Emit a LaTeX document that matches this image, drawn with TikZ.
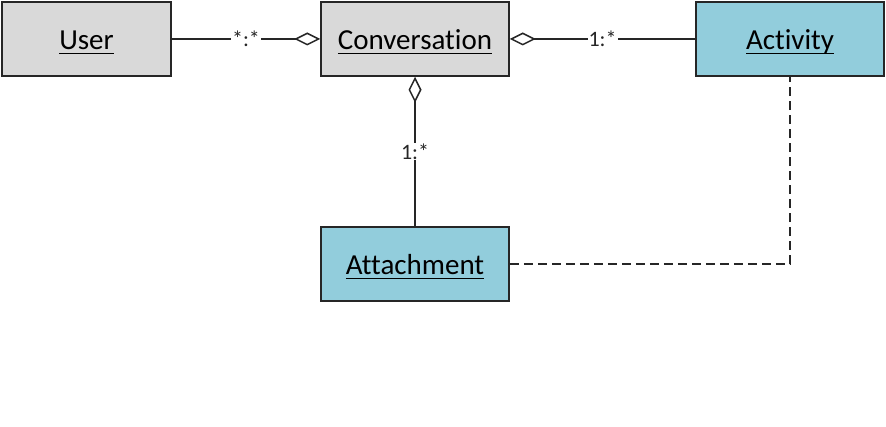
\documentclass[tikz,border=0pt]{standalone}
\usepackage{fontspec}
\setmainfont{Carlito}[Ligatures=NoCommon]
\usepackage{tikz}
\usetikzlibrary{arrows.meta}

\definecolor{classgray}{HTML}{D9D9D9}
\definecolor{classblue}{HTML}{92CDDC}
\definecolor{edgegray}{HTML}{262626}

\newcommand{\undl}[1]{\setbox0\hbox{#1}\leavevmode
    \rlap{\smash{\vrule height -2.6pt depth 4.4pt width \wd0}}\box0}

\tikzset{
    entity/.style={draw=edgegray, line width=1.5pt, minimum height=74pt,
        inner sep=0pt, text height=22pt, text depth=0pt,
        font=\fontsize{29}{34}\selectfont},
    assoc/.style={line width=1.5pt, edgegray,
        -{Diamond[open, length=26pt, width=13pt, line width=1.5pt]}},
    mult/.style={midway, fill=white, inner sep=1pt,
        font=\fontsize{22}{26}\selectfont}
}

\begin{document}
\begin{tikzpicture}[x=1pt, y=-1pt]
    \useasboundingbox (0,0) rectangle (886,427);

    % Draw classes
    \node[entity, fill=classgray, minimum width=169pt] (user) at (86.5,39) {\undl{User}};
    \node[entity, fill=classgray, minimum width=188pt] (conv) at (415,39) {\undl{Conversation}};
    \node[entity, fill=classblue, minimum width=188pt] (act) at (790,39) {\undl{Activity}};
    \node[entity, fill=classblue, minimum width=188pt] (att) at (415,264) {\undl{Attachment}};

    % Draw aggregations
    \draw[assoc] (user) -- (conv) node[mult] {*:*};
    \draw[assoc] (act) -- (conv) node[mult] {1:*};
    \draw[assoc] (att) -- (conv) node[mult] {1:*};

    % Dashed link
    \draw[edgegray, line width=1.5pt, dash pattern=on 9pt off 5pt] (att.east) -| (act.south);
\end{tikzpicture}
\end{document}
